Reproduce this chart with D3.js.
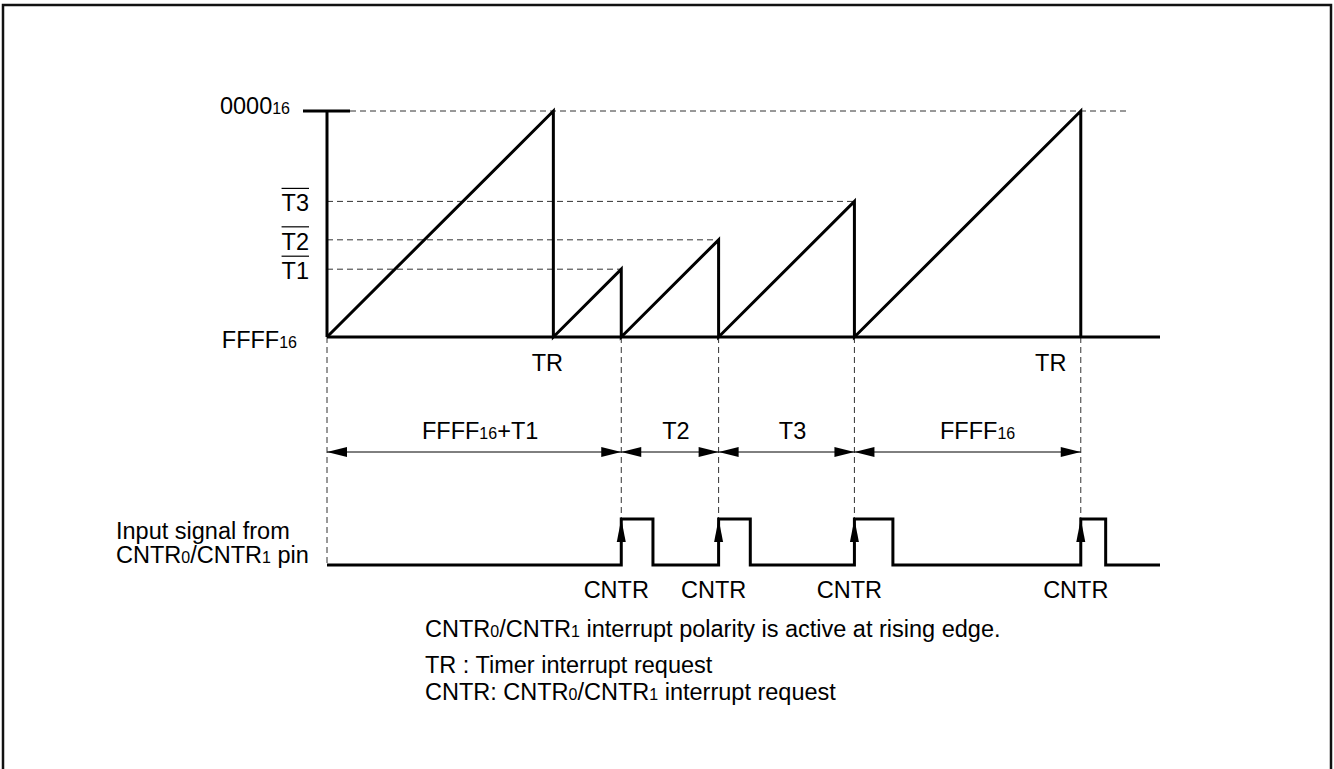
<!DOCTYPE html>
<html>
<head>
<meta charset="utf-8">
<script src="https://cdn.jsdelivr.net/npm/d3@7"></script>
<style>
  body { margin: 0; background: white; }
  text { font-family: "Liberation Sans", Arial, sans-serif; fill: black; }
</style>
</head>
<body>
<div id="chart"></div>
<script>
var width = 1334
var height = 769

// Data: counter levels (0 = FFFF16, 100 = 000016) and event times

var levelNames = ["0000", "T3", "T2", "T1", "FFFF"];
var levelValues = [100, 60, 43, 30, 0];

var rampStarts = [0, 100, 130, 173, 233];
var rampPeaks = [100, 30, 43, 60, 100];
var timeEnd = 368;

var trTimes = [100, 333];
var cntrTimes = [130, 173, 233, 333];
var pulseWidths = [14, 14, 17, 11];

var spanEdges = [0, 130, 173, 233, 333];
var spanLabels = [
    [["FFFF"], ["16", true], ["+T1"]],
    [["T2"]],
    [["T3"]],
    [["FFFF"], ["16", true]]
];

var noteLines = [
    [["CNTR"], ["0", true], ["/CNTR"], ["1", true], [" interrupt polarity is active at rising edge."]],
    [["TR : Timer interrupt request"]],
    [["CNTR: CNTR"], ["0", true], ["/CNTR"], ["1", true], [" interrupt request"]]
];
var signalLabel = [
    [["Input signal from"]],
    [["CNTR"], ["0", true], ["/CNTR"], ["1", true], [" pin"]]
];

// Scales

var x_scale = d3.scaleLinear()
    .domain([0, timeEnd])
    .range([327, 1160]);

var y_scale = d3.scaleLinear()
    .domain([0, 100])
    .range([337, 111]);

var s_scale = d3.scaleLinear()
    .domain([0, 1])
    .range([565, 519]);

var fontSize = 23.5
var subSize = 16

var svg = d3.select("#chart")
    .append("svg")
    .attr("width", width)
    .attr("height", height)
    .style("display", "block")

// Frame

svg.append("rect")
    .attr("x", 3)
    .attr("y", 5)
    .attr("width", 1328)
    .attr("height", 800)
    .attr("fill", "none")
    .attr("stroke", "#111")
    .attr("stroke-width", 2.5)

function addParts(sel, parts) {
    parts.forEach(function(p) {
        sel.append("tspan")
            .attr("font-size", p[1] ? subSize : fontSize)
            .text(p[0]);
    });
}

// Dashed guides

var guides = svg.append("g")
    .attr("stroke", "#333")
    .attr("stroke-width", 1)
    .attr("stroke-dasharray", "6,4")
    .attr("fill", "none")

guides.append("line")
    .attr("x1", x_scale(0) + 23).attr("x2", 1128)
    .attr("y1", y_scale(100)).attr("y2", y_scale(100))

levelValues.forEach(function(v) {
    var i = rampPeaks.indexOf(v);
    if (v === 100 || v === 0 || i < 0) return;
    guides.append("line")
        .attr("x1", x_scale(0))
        .attr("x2", x_scale(rampStarts[i] + rampPeaks[i]))
        .attr("y1", y_scale(v)).attr("y2", y_scale(v))
});

guides.append("line")
    .attr("x1", x_scale(0)).attr("x2", x_scale(0))
    .attr("y1", y_scale(0)).attr("y2", s_scale(0))

guides.selectAll(".vcntr")
    .data(cntrTimes)
    .enter()
    .append("line")
    .attr("x1", function(d) { return x_scale(d); })
    .attr("x2", function(d) { return x_scale(d); })
    .attr("y1", y_scale(0))
    .attr("y2", s_scale(1))

// Axis

var axis = svg.append("g")
    .attr("stroke", "black")
    .attr("stroke-width", 3)
    .attr("fill", "none")

axis.append("line")
    .attr("x1", x_scale(0)).attr("x2", x_scale(0))
    .attr("y1", y_scale(0)).attr("y2", y_scale(100))

axis.append("line")
    .attr("x1", x_scale(0) - 24).attr("x2", x_scale(0) + 23)
    .attr("y1", y_scale(100)).attr("y2", y_scale(100))

axis.append("line")
    .attr("x1", x_scale(0)).attr("x2", x_scale(timeEnd))
    .attr("y1", y_scale(0)).attr("y2", y_scale(0))

// Sawtooth

var saw = [];
rampStarts.forEach(function(s, i) {
    saw.push([s, 0]);
    saw.push([s + rampPeaks[i], rampPeaks[i]]);
    saw.push([s + rampPeaks[i], 0]);
});

svg.append("path")
    .datum(saw)
    .attr("d", d3.line()
        .x(function(d) { return x_scale(d[0]); })
        .y(function(d) { return y_scale(d[1]); }))
    .attr("fill", "none")
    .attr("stroke", "black")
    .attr("stroke-width", 3)
    .attr("stroke-linejoin", "miter")

// Level labels

var labelStyle = {
    "0000": {x: 290, dy: 3},
    "FFFF": {x: 297, dy: 11},
    "T": {x: 309, dy: 10}
};

levelNames.forEach(function(name, i) {
    var st = labelStyle[name] || labelStyle["T"];
    var t = svg.append("text")
        .attr("x", st.x)
        .attr("y", y_scale(levelValues[i]) + st.dy)
        .attr("text-anchor", "end")
        .attr("font-size", fontSize)
    if (name === "0000" || name === "FFFF") {
        addParts(t, [[name], ["16", true]]);
    } else {
        addParts(t, [[name]]);
        var b = t.node().getBBox();
        svg.append("line")
            .attr("x1", b.x).attr("x2", b.x + b.width)
            .attr("y1", y_scale(levelValues[i]) - 13)
            .attr("y2", y_scale(levelValues[i]) - 13)
            .attr("stroke", "black")
            .attr("stroke-width", 1.2)
    }
});

// TR labels (second one sits left of its line)

var trShift = [-6, -30];
svg.selectAll(".tr")
    .data(trTimes)
    .enter()
    .append("text")
    .attr("x", function(d, i) { return x_scale(d) + trShift[i]; })
    .attr("y", y_scale(0) + 34)
    .attr("text-anchor", "middle")
    .attr("font-size", fontSize)
    .text("TR")

// Spans with arrows

var spanY = 452
var spans = svg.append("g")

spanLabels.forEach(function(parts, i) {
    var a = x_scale(spanEdges[i]);
    var b = x_scale(spanEdges[i + 1]);
    spans.append("line")
        .attr("x1", a).attr("x2", b)
        .attr("y1", spanY).attr("y2", spanY)
        .attr("stroke", "black")
        .attr("stroke-width", 1)
    spans.append("path")
        .attr("d", "M" + a + "," + spanY + "L" + (a + 20) + "," + (spanY - 5) + "L" + (a + 20) + "," + (spanY + 5) + "Z")
    spans.append("path")
        .attr("d", "M" + b + "," + spanY + "L" + (b - 20) + "," + (spanY - 5) + "L" + (b - 20) + "," + (spanY + 5) + "Z")
    var t = spans.append("text")
        .attr("x", (a + b) / 2 + (i === 3 ? 10 : 6))
        .attr("y", spanY - 13)
        .attr("text-anchor", "middle")
        .attr("font-size", fontSize)
    addParts(t, parts);
});

// Input signal

var sig = [[0, 0]];
cntrTimes.forEach(function(c, i) {
    sig.push([c, 0], [c, 1], [c + pulseWidths[i], 1], [c + pulseWidths[i], 0]);
});
sig.push([timeEnd, 0]);

svg.append("path")
    .datum(sig)
    .attr("d", d3.line()
        .x(function(d) { return x_scale(d[0]); })
        .y(function(d) { return s_scale(d[1]); }))
    .attr("fill", "none")
    .attr("stroke", "black")
    .attr("stroke-width", 3)

svg.selectAll(".edge")
    .data(cntrTimes)
    .enter()
    .append("path")
    .attr("d", function(d) {
        var x = x_scale(d), y = s_scale(1);
        return "M" + x + "," + y + "L" + (x - 4.5) + "," + (y + 23) + "L" + (x + 4.5) + "," + (y + 23) + "Z";
    })

svg.selectAll(".cntr")
    .data(cntrTimes)
    .enter()
    .append("text")
    .attr("x", function(d) { return x_scale(d) - 5; })
    .attr("y", s_scale(0) + 33)
    .attr("text-anchor", "middle")
    .attr("font-size", fontSize)
    .text("CNTR")

signalLabel.forEach(function(parts, i) {
    var t = svg.append("text")
        .attr("x", 116)
        .attr("y", 539 + i * 24)
        .attr("font-size", fontSize)
    addParts(t, parts);
});

// Notes

var noteY = [637, 673, 700];
noteLines.forEach(function(parts, i) {
    var t = svg.append("text")
        .attr("x", 425)
        .attr("y", noteY[i])
        .attr("font-size", fontSize)
    addParts(t, parts);
});
</script>
</body>
</html>
